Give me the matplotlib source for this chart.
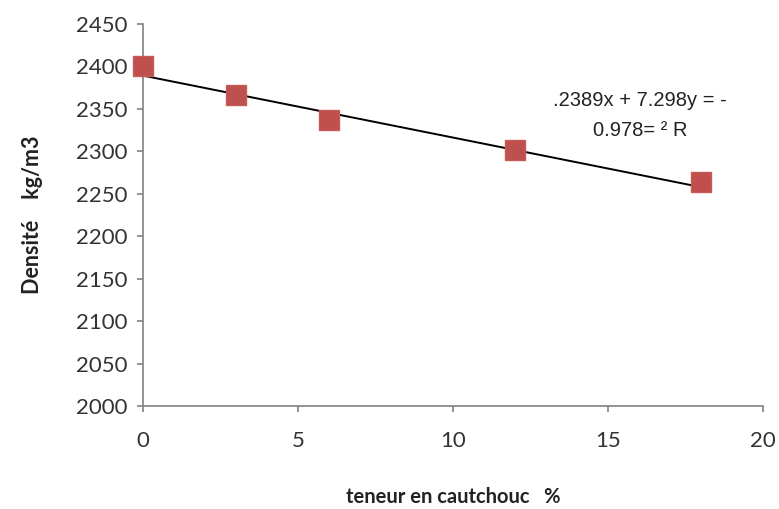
import numpy as np
import matplotlib.pyplot as plt

# Rubber content (%) and measured density (kg/m3)
teneur = [0, 3, 6, 12, 18]
densite = [2400, 2366, 2337, 2301, 2264]

# Linear trend line as given on the chart
pente = -7.298
origine = 2389.2
eq_lignes = [".2389x + 7.298y = -", "0.978= \u00b2 R"]

x_ticks = [0, 5, 10, 15, 20]
y_ticks = list(range(2000, 2451, 50))

fig = plt.figure(figsize=(7.79, 5.09), dpi=100)
ax = fig.add_axes([143 / 779, 1 - 406 / 509, (763 - 143) / 779, (406 - 24) / 509])

gris = '#8a8a8a'

# Trend line
x_fit = np.array([teneur[0], teneur[-1]])
ax.plot(x_fit, pente * x_fit + origine, color='black', lw=1.4, zorder=2)

# Data points
ax.plot(teneur, densite, linestyle='none', marker='s', markersize=14,
        markerfacecolor='#C0504D', markeredgecolor='#C85A57', zorder=3,
        clip_on=False)

ax.set_xlim(0, 20)
ax.set_ylim(2000, 2450)
ax.set_xticks(x_ticks)
ax.set_yticks(y_ticks)

for side in ['top', 'right']:
    ax.spines[side].set_visible(False)
for side in ['left', 'bottom']:
    ax.spines[side].set_color(gris)
    ax.spines[side].set_linewidth(1.3)

ax.tick_params(axis='both', direction='out', length=4, width=1.3, color=gris,
               labelsize=16, labelcolor='#333333')
ax.tick_params(axis='y', pad=7)
ax.tick_params(axis='x', pad=14)
for lab in ax.get_xticklabels() + ax.get_yticklabels():
    lab.set_family('Lato')

ax.set_xlabel('teneur en cautchouc   %', fontsize=14.5, fontweight='bold',
              family='Lato', color='#222222', labelpad=26)
ax.set_ylabel('Densité    kg/m3', fontsize=15.5, fontweight='bold',
              family='Lato', color='#222222', labelpad=24)

# Equation label (kept as displayed)
fig.text(640 / 779, 1 - 101 / 509, eq_lignes[0], ha='center', va='center',
         fontsize=14.5, family='Liberation Sans', color='#222222')
fig.text(640 / 779, 1 - 131 / 509, eq_lignes[1], ha='center', va='center',
         fontsize=14.5, family='Liberation Sans', color='#222222')

fig.savefig('out.png', dpi=100)
